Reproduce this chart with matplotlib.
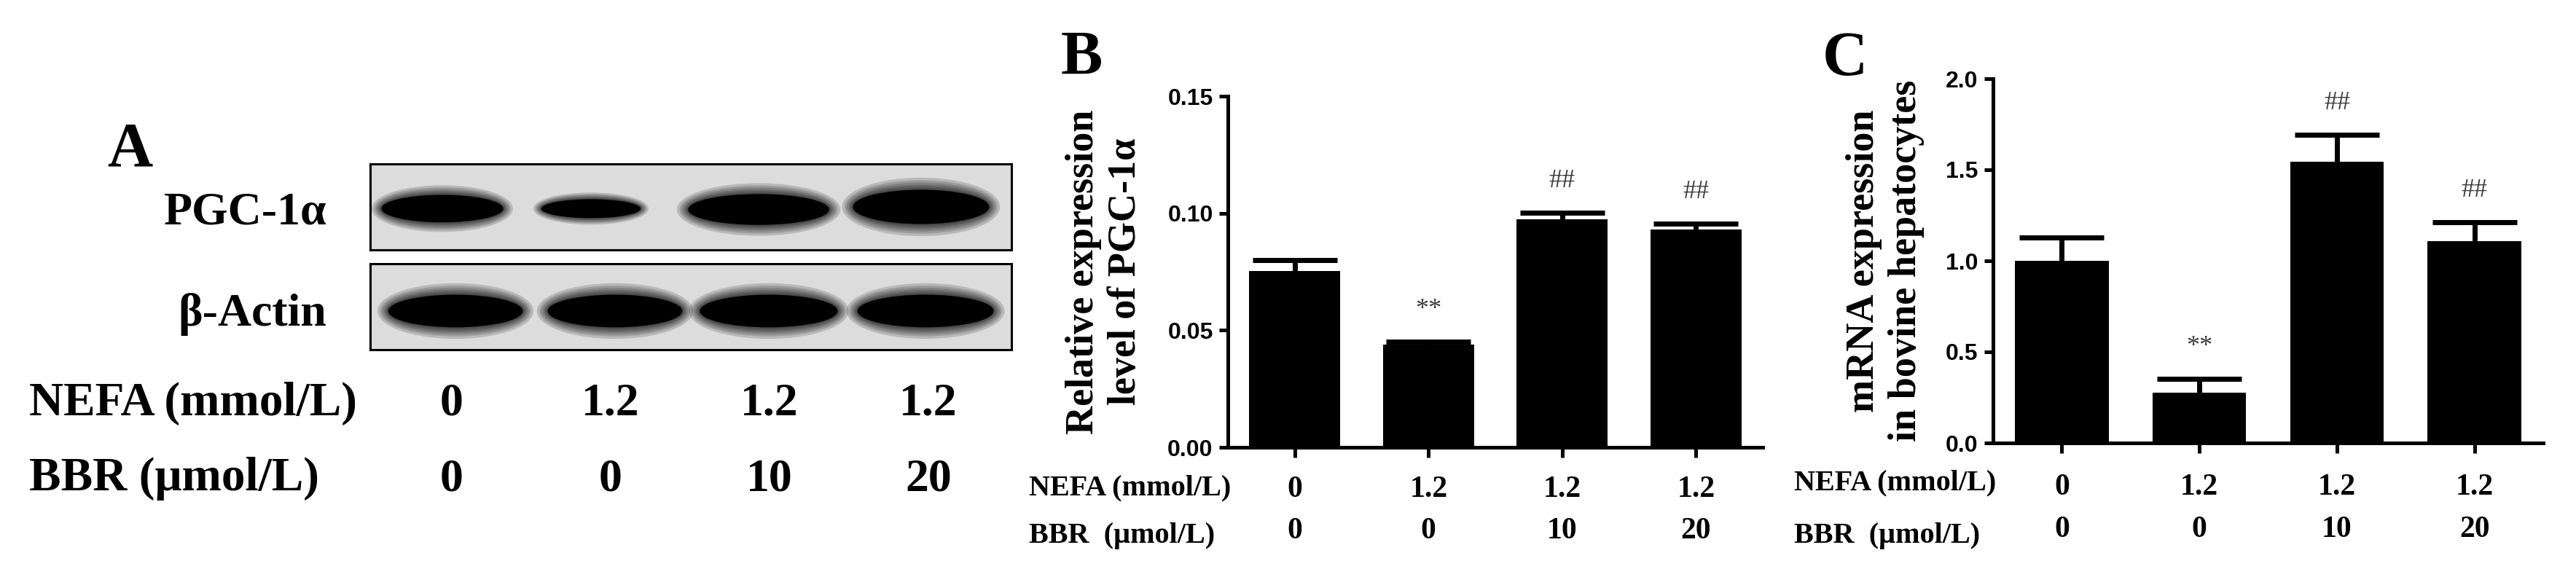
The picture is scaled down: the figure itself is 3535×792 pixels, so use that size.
import matplotlib

matplotlib.use("Agg")

import matplotlib.pyplot as plt  # noqa: E402
import matplotlib.transforms as mtransforms  # noqa: E402
from matplotlib.patches import Ellipse  # noqa: E402
from matplotlib.ticker import FormatStrFormatter  # noqa: E402

W, H = 3535, 792
SERIF = ["Liberation Serif", "DejaVu Serif"]
SANS = ["Liberation Sans", "DejaVu Sans"]

# ---------------------------------------------------------------------------
# Data
# ---------------------------------------------------------------------------

nefa_levels = ["0", "1.2", "1.2", "1.2"]
bbr_levels = ["0", "0", "10", "20"]

# B: relative protein expression of PGC-1a (mean, upper SEM)
pgc_protein = [0.0753, 0.0439, 0.0974, 0.0930]
pgc_protein_err = [0.0047, 0.0012, 0.0028, 0.0025]
pgc_protein_sig = ["", "**", "##", "##"]

# C: PGC-1a mRNA expression
pgc_mrna = [1.00, 0.276, 1.544, 1.108]
pgc_mrna_err = [0.128, 0.076, 0.148, 0.104]
pgc_mrna_sig = ["", "**", "##", "##"]

# A: western blot band shapes (lane centre, width, height, vertical centre)
pgc_band_x = [-0.05, 0.877, 1.923, 2.936]
pgc_band_w = [0.76, 0.62, 0.88, 0.85]
pgc_band_h = [0.32, 0.22, 0.36, 0.40]
pgc_band_y = [0.48, 0.48, 0.47, 0.50]
actin_band_x = [0.032, 1.027, 1.986, 2.964]
actin_band_w = [0.84, 0.84, 0.86, 0.85]
actin_band_h = [0.38, 0.38, 0.38, 0.38]
actin_band_y = [0.45, 0.45, 0.45, 0.45]


def px_rect(left, top, width, height):
    return [left / W, 1 - (top + height) / H, width / W, height / H]


def fy(py):
    return 1 - py / H


fig = plt.figure(figsize=(W / 100, H / 100), dpi=100)
fig.patch.set_facecolor("white")


# ---------------------------------------------------------------------------
# Panel A: western blot
# ---------------------------------------------------------------------------

def draw_blot(rect, xs, ws, hs, ys):
    ax = fig.add_axes(rect)
    ax.set_facecolor("#dcdcdc")
    ax.set_xlim(-0.5, 3.5)
    ax.set_ylim(0, 1)
    ax.set_xticks([])
    ax.set_yticks([])
    for sp in ax.spines.values():
        sp.set_linewidth(2.2)
        sp.set_color("black")
    # soft band edges: stacked translucent ellipses, solid core
    halo = [(1.16, 1.7), (1.12, 1.55), (1.09, 1.42), (1.06, 1.3),
            (1.04, 1.2), (1.02, 1.1)]
    for x, w, h, y in zip(xs, ws, hs, ys):
        for sw, sh in halo:
            ax.add_patch(Ellipse((x, y), w * sw, h * sh, color="black",
                                 alpha=0.16, linewidth=0))
        ax.add_patch(Ellipse((x, y), w, h, color="black", linewidth=0))
    return ax


draw_blot(px_rect(508, 225, 880, 118), pgc_band_x, pgc_band_w, pgc_band_h, pgc_band_y)
draw_blot(px_rect(508, 362, 880, 118), actin_band_x, actin_band_w, actin_band_h, actin_band_y)

fig.text(178 / W, fy(227), "A", ha="center", va="baseline", fontsize=62,
         fontweight="bold", family=SERIF)
fig.text(448 / W, fy(308), "PGC-1α", ha="right", va="baseline", fontsize=46,
         fontweight="bold", family=SERIF)
fig.text(448 / W, fy(447), "β-Actin", ha="right", va="baseline", fontsize=46,
         fontweight="bold", family=SERIF)
fig.text(40 / W, fy(570), "NEFA (mmol/L)", ha="left", va="baseline", fontsize=47,
         fontweight="bold", family=SERIF)
fig.text(40 / W, fy(673), "BBR (μmol/L)", ha="left", va="baseline", fontsize=47,
         fontweight="bold", family=SERIF)
lane_px = [620, 838, 1056, 1274]
for lx, n, b in zip(lane_px, nefa_levels, bbr_levels):
    fig.text(lx / W, fy(570), n, ha="center", va="baseline", fontsize=46,
             fontweight="bold", family=SERIF)
    fig.text(lx / W, fy(673), b, ha="center", va="baseline", fontsize=46,
             fontweight="bold", family=SERIF)


# ---------------------------------------------------------------------------
# Panels B and C: bar charts
# ---------------------------------------------------------------------------

def bar_panel(rect, vals, errs, sig, ylim, yticks, fmt, row_base):
    ax = fig.add_axes(rect)
    xs = list(range(len(vals)))
    ax.bar(xs, vals, width=0.68, color="black", linewidth=0, zorder=2)
    eb = ax.errorbar(xs, vals, yerr=[[0] * len(errs), errs], fmt="none",
                     ecolor="black", elinewidth=5, capsize=42, capthick=5,
                     zorder=3, clip_on=False)
    for cap in eb[1]:
        if list(cap.get_ydata()) == list(vals):
            cap.set_visible(False)
    ax.set_xlim(-0.5, 3.5)
    ax.set_ylim(*ylim)
    for side in ("top", "right"):
        ax.spines[side].set_visible(False)
    for side in ("left", "bottom"):
        ax.spines[side].set_linewidth(3.6)
    ax.set_yticks(yticks)
    ax.yaxis.set_major_formatter(FormatStrFormatter(fmt))
    ax.tick_params(axis="y", length=8.6, width=3.6, pad=6, labelsize=23)
    ax.set_xticks(xs)
    ax.set_xticklabels([])
    ax.tick_params(axis="x", length=10, width=3.6)
    for lab in ax.get_yticklabels():
        lab.set_family(SANS)
        lab.set_fontweight("bold")

    for x, v, e, s in zip(xs, vals, errs, sig):
        if s:
            ax.annotate(s, (x, v + e), xytext=(0, 25), textcoords="offset points",
                        ha="center", va="baseline", fontsize=26, color="#3a3a3a",
                        family=SERIF)

    trans = mtransforms.blended_transform_factory(ax.transData, fig.transFigure)
    (nefa_lab, bbr_lab, nefa_num, bbr_num) = row_base
    for x, n, b in zip(xs, nefa_levels, bbr_levels):
        ax.text(x, fy(nefa_num), n, transform=trans, ha="center", va="baseline",
                fontsize=30, fontweight="bold", family=SERIF)
        ax.text(x, fy(bbr_num), b, transform=trans, ha="center", va="baseline",
                fontsize=30, fontweight="bold", family=SERIF)
    return ax


# B
bar_panel(px_rect(1685, 132, 734, 482), pgc_protein, pgc_protein_err,
          pgc_protein_sig, (0, 0.15), [0, 0.05, 0.10, 0.15], "%.2f",
          (679, 745, 682, 739))
fig.text(1484 / W, fy(102), "B", ha="center", va="baseline", fontsize=62,
         fontweight="bold", family=SERIF)
fig.text(1516 / W, fy(373), "Relative expression\nlevel of PGC-1α", rotation=90,
         ha="center", va="center", multialignment="center", fontsize=39,
         fontweight="bold", family=SERIF, linespacing=1.2)
fig.text(1412 / W, fy(679), "NEFA (mmol/L)", ha="left", va="baseline",
         fontsize=29, fontweight="bold", family=SERIF)
fig.text(1412 / W, fy(745), "BBR  (μmol/L)", ha="left", va="baseline",
         fontsize=29, fontweight="bold", family=SERIF)

# C
bar_panel(px_rect(2735, 108, 755, 500), pgc_mrna, pgc_mrna_err,
          pgc_mrna_sig, (0, 2.0), [0, 0.5, 1.0, 1.5, 2.0], "%.1f",
          (672, 745, 679, 737))
fig.text(2532 / W, fy(103), "C", ha="center", va="baseline", fontsize=62,
         fontweight="bold", family=SERIF)
fig.text(2587 / W, fy(358), "mRNA expression\nin bovine hepatocytes", rotation=90,
         ha="center", va="center", multialignment="center", fontsize=39,
         fontweight="bold", family=SERIF, linespacing=1.2)
fig.text(2462 / W, fy(672), "NEFA (mmol/L)", ha="left", va="baseline",
         fontsize=29, fontweight="bold", family=SERIF)
fig.text(2462 / W, fy(745), "BBR  (μmol/L)", ha="left", va="baseline",
         fontsize=29, fontweight="bold", family=SERIF)

fig.save_path = "out.png"
fig.savefig(fig.save_path, dpi=100)
plt.close(fig)
